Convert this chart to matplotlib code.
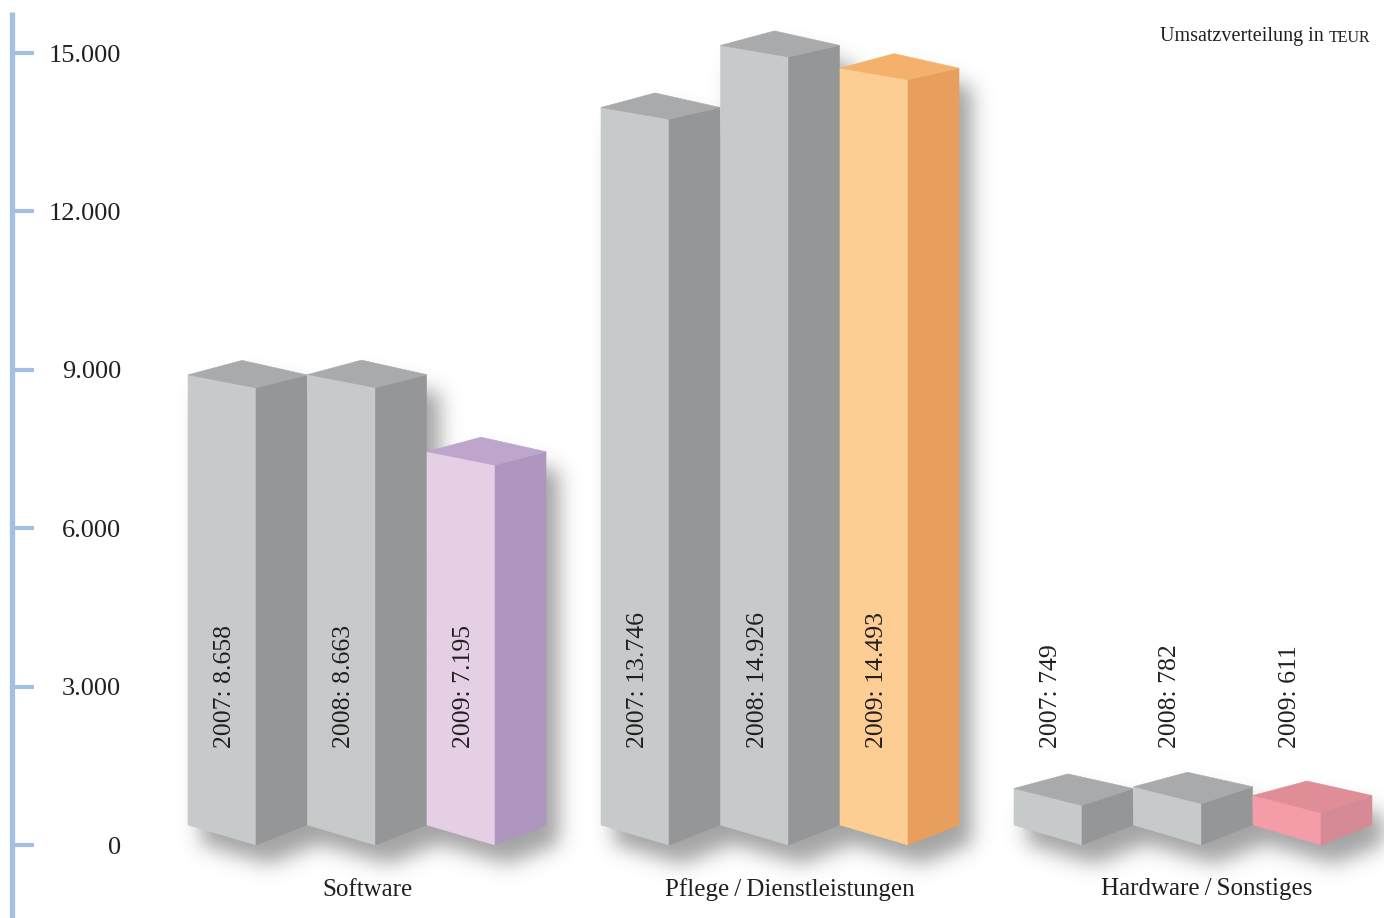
import numpy as np
import matplotlib
matplotlib.use("Agg")
import matplotlib.pyplot as plt
from matplotlib.patches import Polygon
from matplotlib.path import Path

# Umsatzverteilung in TEUR
categories = ["Software", "Pflege\u2009/\u2009Dienstleistungen", "Hardware\u2009/\u2009Sonstiges"]
years = ["2007", "2008", "2009"]
v2007 = [8658, 13746, 749]
v2008 = [8663, 14926, 782]
v2009 = [7195, 14493, 611]
yticks = [0, 3000, 6000, 9000, 12000, 15000]

W, H = 1384, 918
Y0_PX, Y15_PX = 845, 53                 # pixel rows of 0 and 15.000
K = (Y0_PX - Y15_PX) / 15000.0          # px per TEUR
ylo = -(H - Y0_PX) / K
yhi = 15000 + Y15_PX / K

FONT = ["Liberation Serif", "DejaVu Serif"]
TXT = "#231f20"

GRAY = ("#c7cacb", "#959698", "#a9aaac")          # front, side, top
HIGHLIGHT = [("#e4cfe4", "#ae96bf", "#bda5cc"),    # Software 2009
             ("#fdce93", "#e89e5c", "#f3b16c"),    # Pflege 2009
             ("#f49ca8", "#d68a95", "#df8e98")]    # Hardware 2009

FRONT_W, SIDE_W = 68, 51
X_FIRST, GROUP_STEP, BAR_STEP = 256, 413, 119.5


def depth_px(v):
    # pseudo perspective: the top face flattens the higher the bar gets
    return 20 - 8.5 * (v / 15000.0) ** 0.35


def bar_faces(xc, v):
    db = 20 / K
    dt = depth_px(v) / K
    back = dt + 14.5 / K
    bx = xc - FRONT_W + SIDE_W + 3
    left = [(xc - FRONT_W, db), (xc, 0), (xc, v), (xc - FRONT_W, v + dt)]
    right = [(xc, 0), (xc + SIDE_W, db), (xc + SIDE_W, v + dt), (xc, v)]
    top = [(xc - FRONT_W, v + dt), (xc, v), (xc + SIDE_W, v + dt), (bx, v + back)]
    outline = [(xc - FRONT_W, db), (xc, 0), (xc + SIDE_W, db), (xc + SIDE_W, v + dt),
               (bx, v + back), (xc - FRONT_W, v + dt)]
    return left, right, top, outline


def blur(a, s):
    pad = 80
    p = np.pad(a, pad)
    ky = np.fft.fftfreq(p.shape[0])[:, None]
    kx = np.fft.rfftfreq(p.shape[1])[None, :]
    g = np.exp(-2 * np.pi ** 2 * s ** 2 * (ky ** 2 + kx ** 2))
    out = np.fft.irfft2(np.fft.rfft2(p) * g, s=p.shape)
    return out[pad:-pad, pad:-pad]


fig = plt.figure(figsize=(W / 100, H / 100), dpi=100)
ax = fig.add_axes([0, 0, 1, 1])
ax.set_xlim(0, W)
ax.set_ylim(ylo, yhi)
ax.axis("off")

series = [v2007, v2008, v2009]
bars = []
for g in range(len(categories)):
    for i in range(len(years)):
        xc = X_FIRST + g * GROUP_STEP + i * BAR_STEP
        v = series[i][g]
        cols = HIGHLIGHT[g] if i == 2 else GRAY
        bars.append((xc, v, cols, years[i]))

# soft drop shadow below / right of the bars
gx = np.arange(W) + 0.5
gy = (Y0_PX - (np.arange(H) + 0.5)) / K
XX, YY = np.meshgrid(gx, gy)
pts = np.column_stack([XX.ravel(), YY.ravel()])
mask = np.zeros(H * W)
sx, sy = 13, -19 / K
for xc, v, cols, yr in bars:
    outline = bar_faces(xc, v)[3]
    path = Path([(x + sx, y + sy) for x, y in outline])
    mask = np.maximum(mask, path.contains_points(pts).astype(float))
mask = blur(mask.reshape(H, W), 10)
shadow = np.zeros((H, W, 4))
shadow[..., :3] = 0.4
shadow[..., 3] = np.clip(mask, 0, 1) * 0.6
ax.imshow(shadow, extent=(0, W, ylo, yhi), origin="upper", aspect="auto",
          interpolation="bilinear", zorder=1)

z = 2
for xc, v, cols, yr in bars:
    left, right, top, _ = bar_faces(xc, v)
    for pts_, c in ((left, cols[0]), (right, cols[1]), (top, cols[2])):
        ax.add_patch(Polygon(pts_, closed=True, facecolor=c, edgecolor=c,
                             lw=0.4, zorder=z))
    z += 1

# value labels, all starting at the same height
LABEL_Y = (Y0_PX - 748) / K
for xc, v, cols, yr in bars:
    label = f"{yr}: {v:,}".replace(",", ".")
    ax.text(xc - 31, LABEL_Y, label, rotation=90, rotation_mode="anchor",
            ha="left", va="center", fontsize=18.5, family=FONT, color=TXT, zorder=50)

# category labels
cat_shift = [-8, 1, 5]
for g, cat in enumerate(categories):
    xmid = X_FIRST + g * GROUP_STEP + BAR_STEP + cat_shift[g]
    ax.text(xmid, (Y0_PX - 887) / K, cat, ha="center", va="center_baseline",
            fontsize=18, family=FONT, color=TXT, zorder=50)

# y axis: blue rule with short ticks
AXC = "#a3bfe4"
ax.plot([12, 12], [ylo, (Y0_PX - 12) / K], color=AXC, lw=3.8,
        solid_capstyle="butt", zorder=5)
for t in yticks:
    ax.plot([12, 34], [t, t], color=AXC, lw=3.0, solid_capstyle="butt", zorder=5)
    ax.text(121, t, f"{t:,}".replace(",", "."), ha="right", va="center_baseline",
            fontsize=19, family=FONT, color=TXT)

# title, "TEUR" set as small caps
teur = ax.text(1370, (Y0_PX - 36) / K, "TEUR", ha="right", va="center_baseline",
               fontsize=11.5, family=FONT, color=TXT)
ax.annotate("Umsatzverteilung in ", xy=(0, 0), xycoords=teur, ha="right",
            va="bottom", fontsize=14.5, family=FONT, color=TXT)

fig.savefig("out.png", dpi=100)
